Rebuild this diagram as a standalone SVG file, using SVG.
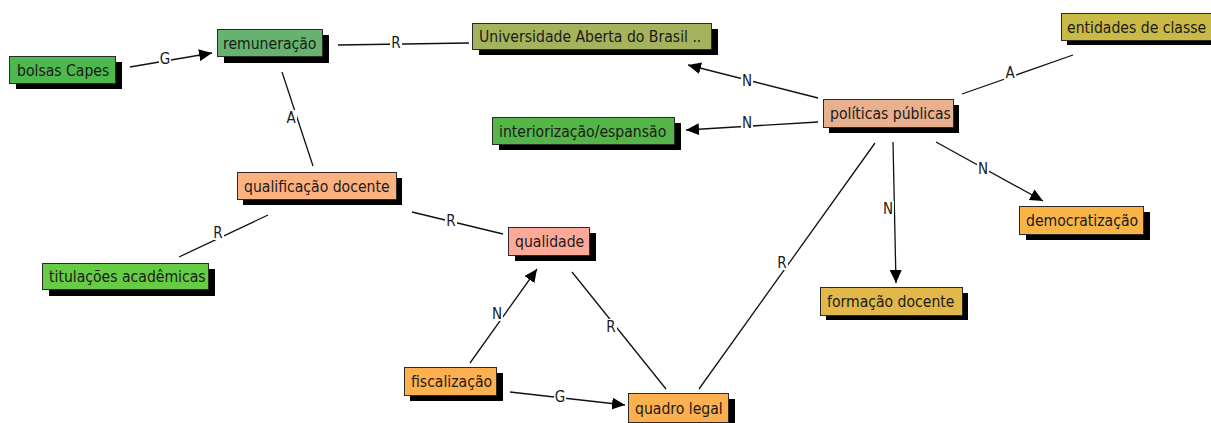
<svg xmlns="http://www.w3.org/2000/svg" width="1211" height="423" viewBox="0 0 1211 423">
  <style>
    .box { stroke: #2a2a2a; stroke-width: 1; }
    .shadow { fill: #000; }
    .t { font-family: "DejaVu Sans Condensed", "DejaVu Sans", sans-serif; font-size: 15.6px; fill: #1a1a1a; }
    .edge { stroke: #111; stroke-width: 1.3; fill: none; }
    .lbg { fill: #fff; }
    .lbl { font-family: "DejaVu Sans Condensed", "DejaVu Sans", sans-serif; font-size: 15px; fill: #1a1a1a; text-anchor: middle; }
  </style>
  <defs>
    <marker id="arrow" markerUnits="userSpaceOnUse" markerWidth="14" markerHeight="12" refX="13" refY="6" orient="auto">
      <path d="M0,0 L13,6 L0,12 Z" fill="#000"/>
    </marker>
  </defs>
  <rect width="1211" height="423" fill="#fff"/>

  <g id="connectors">
    <line class="edge" x1="130" y1="67" x2="212" y2="53" marker-end="url(#arrow)"/>
    <line class="edge" x1="338" y1="45" x2="469" y2="43"/>
    <line class="edge" x1="282" y1="72" x2="313" y2="166"/>
    <line class="edge" x1="818" y1="98" x2="688" y2="65" marker-end="url(#arrow)"/>
    <line class="edge" x1="818" y1="122" x2="686" y2="130" marker-end="url(#arrow)"/>
    <line class="edge" x1="962" y1="94" x2="1073" y2="55"/>
    <line class="edge" x1="936" y1="142" x2="1043" y2="201" marker-end="url(#arrow)"/>
    <line class="edge" x1="893" y1="142" x2="896" y2="283" marker-end="url(#arrow)"/>
    <line class="edge" x1="875" y1="143" x2="699" y2="389"/>
    <line class="edge" x1="268" y1="215" x2="179" y2="257"/>
    <line class="edge" x1="412" y1="212" x2="503" y2="234"/>
    <line class="edge" x1="470" y1="363" x2="537" y2="269" marker-end="url(#arrow)"/>
    <line class="edge" x1="572" y1="272" x2="666" y2="389"/>
    <line class="edge" x1="510" y1="392" x2="625" y2="405" marker-end="url(#arrow)"/>

    <!-- label plates -->
    <rect class="lbg" x="159" y="51" width="12" height="15"/>
    <rect class="lbg" x="390" y="35" width="12" height="15"/>
    <rect class="lbg" x="285" y="110" width="12" height="15"/>
    <rect class="lbg" x="741" y="73" width="12" height="15"/>
    <rect class="lbg" x="741" y="115" width="12" height="15"/>
    <rect class="lbg" x="1004" y="65" width="12" height="15"/>
    <rect class="lbg" x="977" y="161" width="12" height="15"/>
    <rect class="lbg" x="882" y="201" width="12" height="15"/>
    <rect class="lbg" x="776" y="255" width="12" height="15"/>
    <rect class="lbg" x="212" y="225" width="12" height="15"/>
    <rect class="lbg" x="445" y="213" width="12" height="15"/>
    <rect class="lbg" x="491" y="306" width="12" height="15"/>
    <rect class="lbg" x="605" y="319" width="12" height="15"/>
    <rect class="lbg" x="554" y="389" width="12" height="15"/>

    <text class="lbl" x="165" y="64">G</text>
    <text class="lbl" x="396" y="48">R</text>
    <text class="lbl" x="291" y="123">A</text>
    <text class="lbl" x="747" y="86">N</text>
    <text class="lbl" x="747" y="128">N</text>
    <text class="lbl" x="1010" y="78">A</text>
    <text class="lbl" x="983" y="174">N</text>
    <text class="lbl" x="888" y="214">N</text>
    <text class="lbl" x="782" y="268">R</text>
    <text class="lbl" x="218" y="238">R</text>
    <text class="lbl" x="451" y="226">R</text>
    <text class="lbl" x="497" y="319">N</text>
    <text class="lbl" x="611" y="332">R</text>
    <text class="lbl" x="560" y="402">G</text>
  </g>

  <g id="bolsas-capes">
    <rect class="shadow" x="16" y="62" width="106" height="27"/>
    <rect class="box" x="9.5" y="56.5" width="106" height="27" fill="#4db84d"/>
    <text class="t" x="17" y="76">bolsas Capes</text>
  </g>
  <g id="remuneracao">
    <rect class="shadow" x="224" y="35" width="105" height="28"/>
    <rect class="box" x="217.5" y="29.5" width="105" height="27" fill="#66b36f"/>
    <text class="t" x="223" y="49">remuneração</text>
  </g>
  <g id="universidade-aberta">
    <rect class="shadow" x="479" y="29" width="239" height="26"/>
    <rect class="box" x="472.5" y="23.5" width="239" height="26" fill="#a4b35c"/>
    <text class="t" x="479" y="42">Universidade Aberta do Brasil ..</text>
  </g>
  <g id="entidades-de-classe">
    <rect class="shadow" x="1067" y="19" width="150" height="26"/>
    <rect class="box" x="1061.5" y="13.5" width="155" height="27" fill="#c9b945"/>
    <text class="t" x="1067" y="33">entidades de classe</text>
  </g>
  <g id="politicas-publicas">
    <rect class="shadow" x="829" y="105" width="130" height="28"/>
    <rect class="box" x="823.5" y="99.5" width="130" height="28" fill="#e8b08e"/>
    <text class="t" x="830" y="119">políticas públicas</text>
  </g>
  <g id="interiorizacao">
    <rect class="shadow" x="499" y="123" width="182" height="27"/>
    <rect class="box" x="492.5" y="117.5" width="182" height="27" fill="#55b548"/>
    <text class="t" x="499" y="137">interiorização/espansão</text>
  </g>
  <g id="qualificacao-docente">
    <rect class="shadow" x="243" y="178" width="159" height="27"/>
    <rect class="box" x="237.5" y="172.5" width="159" height="27" fill="#fdb17f"/>
    <text class="t" x="244" y="192">qualificação docente</text>
  </g>
  <g id="qualidade">
    <rect class="shadow" x="515" y="233" width="81" height="28"/>
    <rect class="box" x="508.5" y="227.5" width="81" height="28" fill="#fda999"/>
    <text class="t" x="515" y="247">qualidade</text>
  </g>
  <g id="titulacoes-academicas">
    <rect class="shadow" x="49" y="269" width="166" height="27"/>
    <rect class="box" x="42.5" y="263.5" width="166" height="26" fill="#66cc44"/>
    <text class="t" x="49" y="282">titulações acadêmicas</text>
  </g>
  <g id="democratizacao">
    <rect class="shadow" x="1026" y="212" width="124" height="28"/>
    <rect class="box" x="1019.5" y="206.5" width="124" height="28" fill="#f8b447"/>
    <text class="t" x="1026" y="226">democratização</text>
  </g>
  <g id="formacao-docente">
    <rect class="shadow" x="826" y="293" width="142" height="27"/>
    <rect class="box" x="820.5" y="287.5" width="142" height="28" fill="#e2b84a"/>
    <text class="t" x="827" y="307">formação docente</text>
  </g>
  <g id="fiscalizacao">
    <rect class="shadow" x="410" y="373" width="93" height="28"/>
    <rect class="box" x="404.5" y="367.5" width="92" height="28" fill="#fdb04f"/>
    <text class="t" x="411" y="387">fiscalização</text>
  </g>
  <g id="quadro-legal">
    <rect class="shadow" x="635" y="399" width="100" height="28"/>
    <rect class="box" x="628.5" y="393.5" width="100" height="29" fill="#fdb04f"/>
    <text class="t" x="635" y="414">quadro legal</text>
  </g>
</svg>
